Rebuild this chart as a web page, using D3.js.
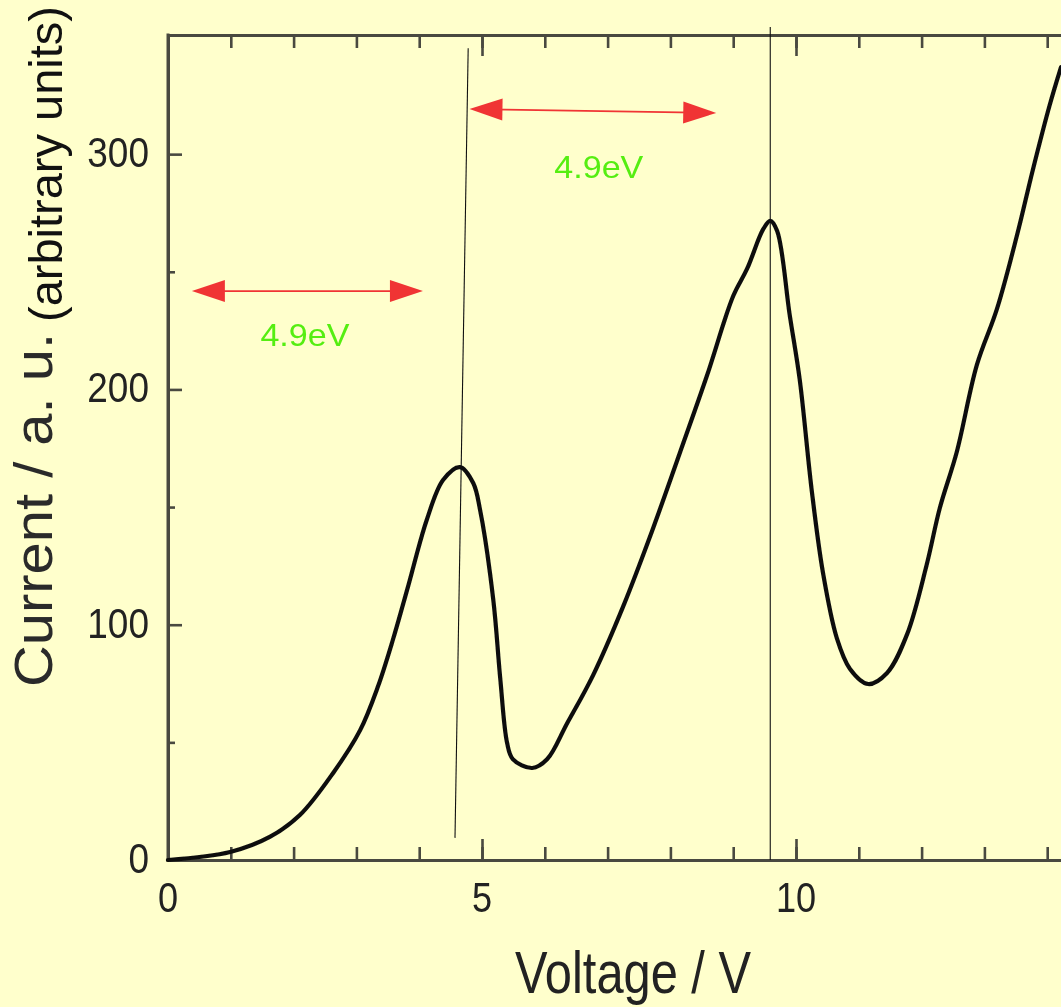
<!DOCTYPE html>
<html>
<head>
<meta charset="utf-8">
<script src="https://cdn.jsdelivr.net/npm/d3@7"></script>
<style>
  html, body { margin: 0; padding: 0; background: #ffffcc; overflow: hidden; }
  svg { display: block; }
</style>
</head>
<body>
<svg id="chart" width="1061" height="1007"></svg>
<script>
// Franck–Hertz curve: collector current versus accelerating voltage
const voltage = [0, 0.99, 1.62, 2.10, 2.63, 3.06, 3.34, 3.58, 3.82, 4.12, 4.38, 4.65, 4.86, 4.97,
  5.18, 5.29, 5.40, 5.49, 5.80, 6.04, 6.35, 6.77, 7.25, 7.72, 8.15, 8.58, 9.00, 9.22, 9.48, 9.59,
  9.70, 9.90, 10.06, 10.25, 10.43, 10.65, 10.86, 11.15, 11.45, 11.77, 12.08, 12.29, 12.56, 12.88,
  13.20, 13.52, 13.77, 14.04, 14.22];
const current = [0, 3.4, 9.8, 19.1, 37.0, 55.2, 73.5, 93.5, 116.0, 144.5, 161.5, 167.0, 160.2, 148.7,
  110.5, 77.3, 49.7, 42.9, 39.1, 42.9, 57.8, 78.6, 107.9, 140.7, 173.0, 205.7, 239.7, 251.2, 268.2, 271.6,
  267.3, 231.6, 204.0, 157.2, 122.0, 94.3, 81.2, 74.8, 79.5, 96.0, 125.4, 149.6, 173.4, 210.4,
  234.2, 265.6, 293.2, 320.9, 337.0];

// Axis ticks
const xMajorTicks = [0, 5, 10, 15];
const xMinorTicks = d3.range(0, 16, 1);
const yMajorTicks = [0, 100, 200, 300];
const yMinorTicks = [50, 150, 250];

// Peak marker lines (voltage, current at both ends)
const markerV1 = [4.78, 9.59];
const markerI1 = [345, 354];
const markerV2 = [4.57, 9.59];
const markerI2 = [9.4, 0];

// 4.9 eV spacing arrows
const arrowV1 = [0.38, 4.80];
const arrowI1 = [241.8, 319.2];
const arrowV2 = [4.06, 8.73];
const arrowI2 = [241.8, 317.5];
const arrowLabel = ["4.9eV", "4.9eV"];
const labelV = [2.18, 6.86];
const labelI = [218.5, 289.8];

const svg = d3.select("#chart");
svg.append("rect").attr("width", 1061).attr("height", 1007).attr("fill", "#ffffcc");

const defs = svg.append("defs");
defs.append("filter").attr("id", "soft")
  .attr("x", "-5%").attr("y", "-5%").attr("width", "110%").attr("height", "110%")
  .append("feGaussianBlur").attr("stdDeviation", 0.55);

const x = d3.scaleLinear().domain([0, 15]).range([168, 168 + 15 * 62.8]);
const y = d3.scaleLinear().domain([0, 350]).range([860, 36.5]);

const axisColor = "#4a4a40";
const base = svg.append("g").attr("filter", "url(#soft)");

function styleAxis(g) {
  g.selectAll("path.domain").attr("stroke", axisColor).attr("stroke-width", 3);
  g.selectAll(".tick line").attr("stroke", axisColor).attr("stroke-width", 2.6);
  g.selectAll(".tick text").remove();
}

// bottom axis (ticks point inward)
base.append("g").attr("transform", `translate(0,${y(0)})`)
  .call(d3.axisBottom(x).tickValues(xMinorTicks).tickSize(-13).tickSizeOuter(0).tickFormat(""))
  .call(styleAxis);
base.append("g").attr("transform", `translate(0,${y(0)})`)
  .call(d3.axisBottom(x).tickValues(xMajorTicks).tickSize(-21).tickSizeOuter(0).tickFormat(""))
  .call(styleAxis);

// top axis
base.append("g").attr("transform", `translate(0,${y.range()[1] - 1.5})`)
  .call(d3.axisTop(x).tickValues(xMinorTicks).tickSize(-13).tickSizeOuter(0).tickFormat(""))
  .call(styleAxis);
base.append("g").attr("transform", `translate(0,${y.range()[1] - 1.5})`)
  .call(d3.axisTop(x).tickValues(xMajorTicks).tickSize(-21).tickSizeOuter(0).tickFormat(""))
  .call(styleAxis);

// left axis
base.append("g").attr("transform", `translate(${x(0)},0)`)
  .call(d3.axisLeft(y).tickValues(yMinorTicks).tickSize(-7).tickSizeOuter(0).tickFormat(""))
  .call(styleAxis);
base.append("g").attr("transform", `translate(${x(0)},0)`)
  .call(d3.axisLeft(y).tickValues(yMajorTicks).tickSize(-14).tickSizeOuter(0).tickFormat(""))
  .call(styleAxis);
base.append("line")
  .attr("x1", x(0)).attr("x2", x(0)).attr("y1", y.range()[1] - 3).attr("y2", y(0) + 1.5)
  .attr("stroke", axisColor).attr("stroke-width", 3);

// tick labels (narrow sans)
const labelFont = "'Liberation Sans', Arial, Helvetica, sans-serif";
base.selectAll("text.xlab").data(xMajorTicks.filter(d => d <= 10)).enter().append("text")
  .attr("class", "xlab")
  .attr("transform", d => `translate(${x(d)},912) scale(0.86,1)`)
  .attr("text-anchor", "middle")
  .attr("font-family", labelFont).attr("font-size", 42).attr("fill", "#222")
  .text(d => d);
base.selectAll("text.ylab").data(yMajorTicks).enter().append("text")
  .attr("class", "ylab")
  .attr("transform", d => `translate(149,${y(d) + 13}) scale(0.86,1)`)
  .attr("text-anchor", "end")
  .attr("font-family", labelFont).attr("font-size", 43).attr("fill", "#222")
  .text(d => d);

// axis titles
base.append("text")
  .attr("x", 515).attr("y", 993)
  .attr("font-family", labelFont).attr("font-size", 60).attr("fill", "#222")
  .attr("textLength", 236).attr("lengthAdjust", "spacingAndGlyphs")
  .text("Voltage / V");
base.append("text")
  .attr("transform", "translate(52,687) rotate(-90)")
  .attr("font-family", labelFont).attr("font-size", 53).attr("fill", "#2a2a2a")
  .attr("textLength", 354).attr("lengthAdjust", "spacingAndGlyphs")
  .text("Current / a. u.");

// the measured curve
const line = d3.line()
  .x((d, i) => x(voltage[i]))
  .y((d, i) => y(current[i]))
  .curve(d3.curveCatmullRom.alpha(0.5));
base.append("path")
  .datum(voltage)
  .attr("d", line)
  .attr("fill", "none")
  .attr("stroke", "#111")
  .attr("stroke-width", 4.2)
  .attr("stroke-linejoin", "round")
  .attr("stroke-linecap", "round");

// second part of the y title
svg.append("text")
  .attr("transform", "translate(62,322) rotate(-90)")
  .attr("font-family", labelFont).attr("font-size", 47).attr("fill", "#111")
  .text("(arbitrary units)");

// peak marker lines
svg.selectAll("line.marker").data(markerV1).enter().append("line")
  .attr("class", "marker")
  .attr("x1", (d, i) => x(markerV1[i])).attr("y1", (d, i) => y(markerI1[i]))
  .attr("x2", (d, i) => x(markerV2[i])).attr("y2", (d, i) => y(markerI2[i]))
  .attr("stroke", "#111").attr("stroke-width", 1.1);

// double-headed arrows
const red = "#f03434";
arrowV1.forEach((v, i) => {
  const x1 = x(arrowV1[i]), y1 = y(arrowI1[i]);
  const x2 = x(arrowV2[i]), y2 = y(arrowI2[i]);
  const ang = Math.atan2(y2 - y1, x2 - x1);
  const len = Math.hypot(x2 - x1, y2 - y1);
  const g = svg.append("g")
    .attr("transform", `translate(${x1},${y1}) rotate(${ang * 180 / Math.PI})`);
  g.append("line").attr("x1", 20).attr("x2", len - 20).attr("y1", 0).attr("y2", 0)
    .attr("stroke", red).attr("stroke-width", 1.8);
  g.append("path").attr("d", `M0,0 L33,-11 L33,11 Z`).attr("fill", red);
  g.append("path").attr("d", `M${len},0 L${len - 33},-11 L${len - 33},11 Z`).attr("fill", red);
});

svg.selectAll("text.ev").data(arrowLabel).enter().append("text")
  .attr("class", "ev")
  .attr("x", (d, i) => x(labelV[i])).attr("y", (d, i) => y(labelI[i]))
  .attr("text-anchor", "middle")
  .attr("font-family", labelFont).attr("font-size", 32).attr("fill", "#55ee11")
  .attr("textLength", 89).attr("lengthAdjust", "spacingAndGlyphs")
  .text(d => d);
</script>
</body>
</html>
